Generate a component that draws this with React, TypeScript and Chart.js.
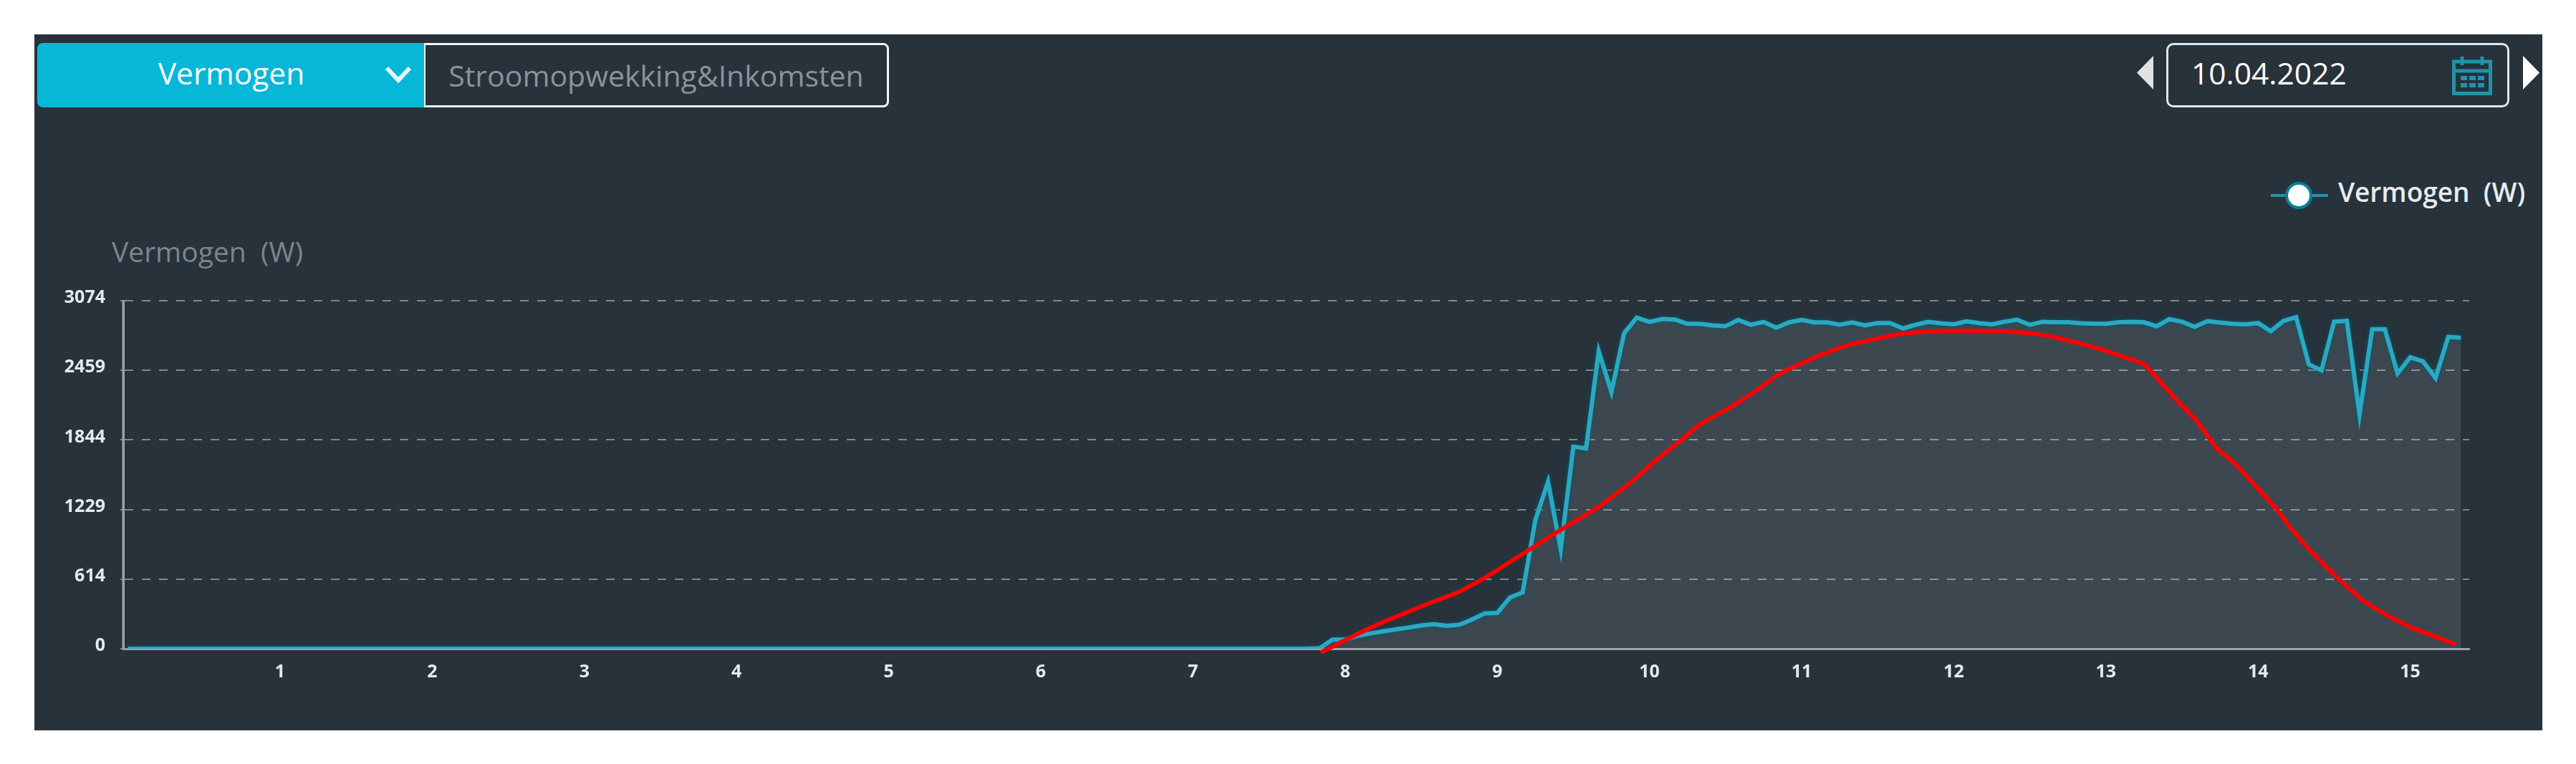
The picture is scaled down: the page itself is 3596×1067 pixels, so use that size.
import React, { useEffect, useRef } from "react";
import { Chart, registerables } from "chart.js";

Chart.register(...registerables);

const yTickValues = [0, 614, 1229, 1844, 2459, 3074];
const xTickValues = [1, 2, 3, 4, 5, 6, 7, 8, 9, 10, 11, 12, 13, 14, 15];

// Measured power, one value every five minutes from 00:00
const powerValues = [
  0, 0, 0, 0, 0, 0, 0, 0, 0, 0, 0, 0,
  0, 0, 0, 0, 0, 0, 0, 0, 0, 0, 0, 0,
  0, 0, 0, 0, 0, 0, 0, 0, 0, 0, 0, 0,
  0, 0, 0, 0, 0, 0, 0, 0, 0, 0, 0, 0,
  0, 0, 0, 0, 0, 0, 0, 0, 0, 0, 0, 0,
  0, 0, 0, 0, 0, 0, 0, 0, 0, 0, 0, 0,
  0, 0, 0, 0, 0, 0, 0, 0, 0, 0, 0, 0,
  0, 0, 0, 0, 0, 0, 0, 0, 0, 0,
  5, 81, 81, 113, 135, 153, 171, 187, 205, 217, 203, 212, 258, 312, 316, 452, 497,
  1137, 1476, 877, 1785, 1770, 2628, 2267, 2787, 2925, 2887, 2913, 2908, 2870, 2870, 2856, 2849,
  2904, 2862, 2887, 2835, 2883, 2904, 2883, 2883, 2862, 2883, 2856, 2877, 2877, 2829, 2862, 2887,
  2875, 2866, 2892, 2877, 2866, 2888, 2906, 2861, 2888, 2884, 2884, 2875, 2872, 2870, 2884, 2888,
  2884, 2848, 2911, 2888, 2843, 2893, 2881, 2870, 2866, 2877, 2805, 2895, 2929, 2512, 2459, 2889,
  2897, 2069, 2822, 2822, 2432, 2574, 2539, 2391, 2755, 2747,
];

const curveHours = [
  7.84, 8.17, 8.575, 8.733, 8.935, 9.2, 9.44, 9.675, 9.83, 9.91, 10.07, 10.21, 10.33, 10.54, 10.73,
  10.85, 11.01, 11.16, 11.32, 11.48, 11.64, 11.79, 11.95, 12.1, 12.19, 12.34, 12.5, 12.66, 12.81,
  12.97, 13.13, 13.25, 13.44, 13.6, 13.73, 13.85, 13.97, 14.12, 14.22, 14.34, 14.54, 14.69, 14.85,
  15.01, 15.17, 15.3,
];
const curveValues = [
  -34, 188, 414, 493, 640, 866, 1069, 1261, 1419, 1507, 1696, 1844, 1981, 2139, 2308,
  2424, 2529, 2613, 2687, 2735, 2778, 2799, 2807, 2809, 2807, 2802, 2787, 2753, 2703,
  2644, 2572, 2515, 2233, 2007, 1770, 1634, 1457, 1236, 1058, 872, 603, 428, 293,
  186, 105, 38,
];

const FONT = '"Open Sans", "Noto Sans", sans-serif';
const abs = (left: number, top: number, width: number, height: number): React.CSSProperties => ({
  position: "absolute",
  left,
  top,
  width,
  height,
  boxSizing: "border-box",
});

export default function App() {
  const ref = useRef<HTMLCanvasElement | null>(null);

  useEffect(() => {
    const chart = new Chart(ref.current as HTMLCanvasElement, {
      type: "line",
      data: {
        datasets: [
          {
            label: "Vermogen  (W)",
            data: powerValues.map((y, i) => ({ x: i / 12, y })),
            borderColor: "#2aa9c3",
            borderWidth: 6,
            backgroundColor: "rgba(255,255,255,0.105)",
            fill: "origin",
            pointRadius: 0,
            tension: 0,
            order: 2,
          },
          {
            label: "Curve",
            data: curveHours.map((x, i) => ({ x, y: curveValues[i] })),
            borderColor: "#ff0000",
            borderWidth: 6,
            fill: false,
            pointRadius: 0,
            tension: 0.15,
            clip: false,
            order: 1,
          },
        ],
      },
      options: {
        responsive: false,
        animation: false,
        devicePixelRatio: 1,
        layout: { padding: { top: 420, right: 149, left: 0, bottom: 0 } },
        plugins: { legend: { display: false }, title: { display: false }, tooltip: { enabled: false } },
        scales: {
          x: {
            type: "linear",
            min: -0.031,
            max: 15.388,
            afterBuildTicks: (axis: any) => {
              axis.ticks = xTickValues.map((value) => ({ value }));
            },
            afterFit: (axis: any) => {
              axis.height = 161;
            },
            grid: { display: false, drawTicks: false },
            border: { display: true, color: "#9aa1a9", width: 3 },
            ticks: {
              color: "#e6eaee",
              font: { family: FONT, size: 25, weight: "bold" },
              padding: 18,
              maxRotation: 0,
              autoSkip: false,
              callback: (v: any) => String(v),
            },
          },
          y: {
            type: "linear",
            min: 0,
            max: 3074,
            afterBuildTicks: (axis: any) => {
              axis.ticks = yTickValues.map((value) => ({ value }));
            },
            afterFit: (axis: any) => {
              axis.width = 172;
            },
            grid: {
              color: (ctx: any) => (ctx.tick && ctx.tick.value === 0 ? "rgba(0,0,0,0)" : "#7f888f"),
              lineWidth: 2,
              tickLength: 4,
              tickColor: "#7f888f",
            },
            border: { display: true, color: "#9aa1a9", width: 3, dash: [12, 12] },
            ticks: {
              color: "#e6eaee",
              font: { family: FONT, size: 25, weight: "bold" },
              padding: 21,
              labelOffset: -4,
              callback: (v: any) => String(v),
            },
          },
        },
      },
      plugins: [
        {
          id: "solidAxisRuleAndHalo",
          beforeDatasetDraw(c: any, args: any) {
            if (args.index !== 0) return;
            c.ctx.save();
            c.ctx.shadowColor = "rgba(5,90,110,0.95)";
            c.ctx.shadowBlur = 6;
          },
          afterDatasetDraw(c: any, args: any) {
            if (args.index !== 0) return;
            c.ctx.restore();
          },
          afterDraw(c: any) {
            const { ctx, chartArea } = c;
            ctx.save();
            ctx.strokeStyle = "#9aa1a9";
            ctx.lineWidth = 3;
            ctx.beginPath();
            ctx.moveTo(chartArea.left, chartArea.top);
            ctx.lineTo(chartArea.left, chartArea.bottom);
            ctx.stroke();
            ctx.restore();
          },
        },
      ],
    } as any);
    return () => chart.destroy();
  }, []);

  return (
    <div style={{ position: "absolute", left: 0, top: 0, width: 3596, height: 1067, overflow: "hidden", background: "#fff", fontFamily: FONT }}>
      <div style={{ ...abs(48, 48, 3501, 972), background: "#27323b" }} />

      <div style={{ ...abs(52, 60, 540, 90), background: "#07b7d8", borderRadius: "8px 0 0 8px" }} />
      <div style={{ ...abs(100, 60, 446, 90), color: "#fff", fontSize: 42.5, lineHeight: "84px", textAlign: "center" }}>Vermogen</div>
      <svg style={abs(536, 92, 40, 24)} viewBox="0 0 40 24">
        <path d="M4 3 L20 20 L36 3" fill="none" stroke="#e8fbff" strokeWidth="6" />
      </svg>
      <div style={{ ...abs(592, 60, 649, 90), border: "3px solid #f2f4f6", borderLeftWidth: 2, borderRadius: "0 8px 8px 0", color: "#8b9298", fontSize: 41, lineHeight: "84px", textAlign: "center", whiteSpace: "nowrap" }}>
        Stroomopwekking&amp;Inkomsten
      </div>

      <svg style={abs(2983, 78, 23, 47)} viewBox="0 0 23 47">
        <path d="M23 0 L0 23.5 L23 47 Z" fill="#dfe3e6" />
      </svg>
      <div style={{ ...abs(3024, 60, 479, 90), border: "3px solid #dfe7ec", borderRadius: 10 }} />
      <div style={{ ...abs(3059, 60, 260, 90), color: "#fff", fontSize: 42.5, lineHeight: "84px", whiteSpace: "nowrap" }}>10.04.2022</div>
      <svg style={abs(3423, 79, 56, 54)} viewBox="0 0 56 54">
        <g fill="none" stroke="#1f93a9" strokeWidth="5">
          <rect x="2.5" y="7" width="51" height="44.5" />
          <path d="M2 20 H54 M14 0 V12 M42 0 V12" />
        </g>
        <g fill="#1f93a9">
          <rect x="12" y="27" width="9" height="6" />
          <rect x="24" y="27" width="9" height="6" />
          <rect x="36" y="27" width="9" height="6" />
          <rect x="12" y="37" width="9" height="6" />
          <rect x="24" y="37" width="9" height="6" />
          <rect x="36" y="37" width="9" height="6" />
        </g>
      </svg>
      <svg style={abs(3522, 78, 23, 47)} viewBox="0 0 23 47">
        <path d="M0 0 L23 23.5 L0 47 Z" fill="#ffffff" />
      </svg>

      <svg style={abs(3170, 252, 80, 42)} viewBox="0 0 80 42">
        <path d="M0 21 H80" stroke="#2b8fa3" strokeWidth="4" />
        <circle cx="39" cy="21" r="17" fill="#fff" stroke="#0b7f97" strokeWidth="4" />
      </svg>
      <div style={{ ...abs(3264, 246, 300, 44), color: "#e8ecef", fontSize: 37, fontWeight: 600, lineHeight: "44px", whiteSpace: "pre" }}>Vermogen  (W)</div>
      <div style={{ ...abs(156, 329, 320, 44), color: "#7c858c", fontSize: 39, lineHeight: "44px", whiteSpace: "pre" }}>Vermogen  (W)</div>

      <canvas ref={ref} width={3596} height={1067} style={{ position: "absolute", left: 0, top: 0, width: 3596, height: 1067 }} />
    </div>
  );
}
